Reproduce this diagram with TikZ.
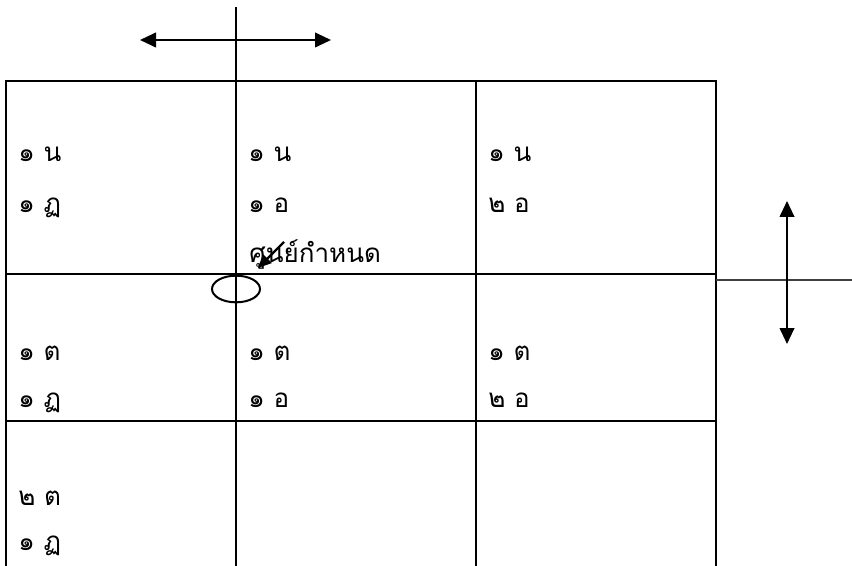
\documentclass[tikz,border=0pt]{standalone}
\usepackage{fontspec}
\newfontfamily\thaifont[Script=Thai]{Loma}
\usetikzlibrary{arrows.meta,shapes.geometric}
\begin{document}
\begin{tikzpicture}[x=0.75pt,y=-0.75pt,
  gridline/.style={line width=1.5pt},
  thinline/.style={line width=1.2pt,black!75},
  dblarrow/.style={line width=1.5pt,{Triangle[length=12pt,width=11pt]}-{Triangle[length=12pt,width=11pt]}},
  pointer/.style={line width=1.8pt,-{Triangle[length=10pt,width=9pt]}},
  lbl/.style={anchor=base west,inner sep=0pt,font=\thaifont\fontsize{19.5pt}{22pt}\selectfont}]
\useasboundingbox (0,0) rectangle (852,566);
% grid
\coordinate (tl) at (6,81); \coordinate (tr) at (716,81);
\coordinate (bl) at (6,566); \coordinate (br) at (716,566);
\draw[gridline] (bl) -- (tl) -- (tr) -- (br);
\draw[gridline] (6,274) -- (716,274);
\draw[gridline] (6,421) -- (716,421);
\draw[gridline] (236,7) -- (236,566);
\draw[gridline] (476,81) -- (476,566);
\draw[thinline] (716,280) -- (852,280);
% arrows
\coordinate (hl) at (140,40); \coordinate (hr) at (331,40);
\draw[dblarrow] (hl) -- (hr);
\coordinate (vt) at (787,201); \coordinate (vb) at (787,344);
\draw[dblarrow] (vt) -- (vb);
% ellipse
\node[draw,line width=1.5pt,ellipse,minimum width=36pt,minimum height=20pt,inner sep=0pt] (ell) at (236,289) {};
% labels
\node[lbl] (a1) at (18,162) {๑ น};
\node[lbl] (a2) at (18,213) {๑ ฏ};
\node[lbl] (b1) at (248,162) {๑ น};
\node[lbl] (b2) at (248,213) {๑ อ};
\node[lbl] (c1) at (488,162) {๑ น};
\node[lbl] (c2) at (488,213) {๒ อ};
\node[lbl] (ctr) at (249,263) {ศูนย์กำหนด};
\node[lbl] (d1) at (18,360) {๑ ต};
\node[lbl] (d2) at (18,407) {๑ ฏ};
\node[lbl] (e1) at (248,360) {๑ ต};
\node[lbl] (e2) at (248,407) {๑ อ};
\node[lbl] (f1) at (488,360) {๑ ต};
\node[lbl] (f2) at (488,407) {๒ อ};
\node[lbl] (g1) at (18,505) {๒ ต};
\node[lbl] (g2) at (18,550) {๑ ฏ};
% pointer
\coordinate (ps) at (284,242); \coordinate (pe) at (258,268);
\draw[pointer] (ps) -- (pe);
\end{tikzpicture}
\end{document}
